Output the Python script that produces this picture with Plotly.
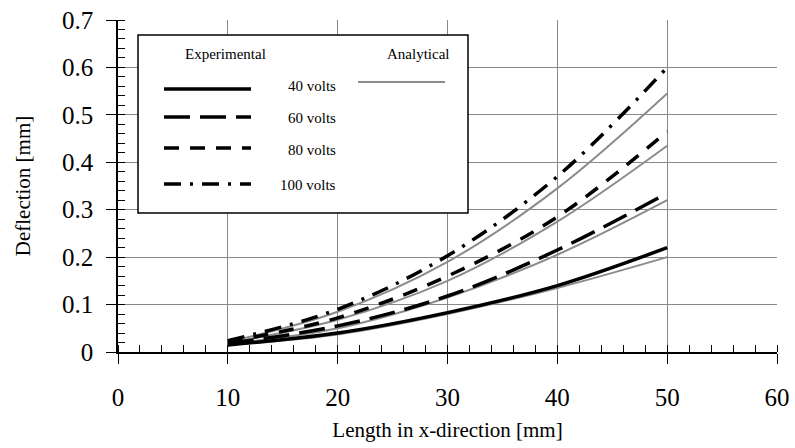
import plotly.graph_objects as go

x_mm = [10, 20, 30, 40, 50]

exp_40 = [0.015, 0.040, 0.083, 0.140, 0.220]
exp_60 = [0.018, 0.055, 0.118, 0.215, 0.335]
exp_80 = [0.021, 0.072, 0.160, 0.285, 0.465]
exp_100 = [0.024, 0.090, 0.203, 0.370, 0.600]

ana_40 = [0.015, 0.037, 0.080, 0.135, 0.200]
ana_60 = [0.017, 0.050, 0.115, 0.205, 0.320]
ana_80 = [0.019, 0.068, 0.150, 0.275, 0.435]
ana_100 = [0.021, 0.085, 0.190, 0.345, 0.545]

volt_labels = ["40 volts", "60 volts", "80 volts", "100 volts"]
x_ticks = [0, 10, 20, 30, 40, 50, 60]
y_ticks = [0, 0.1, 0.2, 0.3, 0.4, 0.5, 0.6, 0.7]

FONT = "Liberation Serif"
W, H = 795, 448
L, R, T, B = 118, 18, 20, 96
PW, PH = W - L - R, H - T - B

def px(xp):
    return (xp - L) / PW

def py(yp):
    return (H - B - yp) / PH

dashes = ["solid", "26px,10px", "15px,11px", "17px,9px,3px,9px"]
exp_series = [exp_40, exp_60, exp_80, exp_100]
ana_series = [ana_40, ana_60, ana_80, ana_100]

fig = go.Figure()
for ys in ana_series:
    fig.add_trace(go.Scatter(x=x_mm, y=ys, mode="lines",
                             line=dict(color="#8c8c8c", width=2, shape="spline"),
                             showlegend=False, hoverinfo="skip"))
for ys, d in zip(exp_series, dashes):
    fig.add_trace(go.Scatter(x=x_mm, y=ys, mode="lines",
                             line=dict(color="black", width=3.5, dash=d, shape="spline"),
                             showlegend=False, hoverinfo="skip"))

shapes = []
# legend box
shapes.append(dict(type="rect", xref="paper", yref="paper",
                   x0=px(138), x1=px(468), y0=py(213), y1=py(35),
                   line=dict(color="black", width=1.5), fillcolor="white", layer="above"))
row_y = [89, 117, 148, 184]
for yy, d in zip(row_y, dashes):
    shapes.append(dict(type="line", xref="paper", yref="paper",
                       x0=px(164), x1=px(251), y0=py(yy), y1=py(yy),
                       line=dict(color="black", width=3.5, dash=d), layer="above"))
shapes.append(dict(type="line", xref="paper", yref="paper",
                   x0=px(358), x1=px(445), y0=py(82), y1=py(82),
                   line=dict(color="#8c8c8c", width=2), layer="above"))

annotations = [
    dict(text="Experimental", x=px(225), y=py(54), xref="paper", yref="paper",
         xanchor="center", yanchor="middle",
         showarrow=False, font=dict(family=FONT, size=15, color="black")),
    dict(text="Analytical", x=px(418), y=py(54), xref="paper", yref="paper",
         xanchor="center", yanchor="middle",
         showarrow=False, font=dict(family=FONT, size=15, color="black")),
]
for yy, lab in zip([86, 118, 150, 185], volt_labels):
    annotations.append(dict(text=lab, x=px(338), y=py(yy), xref="paper", yref="paper",
                            xanchor="right", yanchor="middle", showarrow=False,
                            font=dict(family=FONT, size=15, color="black")))

fig.update_layout(
    width=W, height=H,
    margin=dict(l=L, r=R, t=T, b=B, autoexpand=False),
    paper_bgcolor="white", plot_bgcolor="white",
    font=dict(family=FONT, color="black"),
    shapes=shapes, annotations=annotations,
    xaxis=dict(range=[0, 60], tickvals=x_ticks, showgrid=True, gridcolor="#888888",
               gridwidth=1, showline=True, linecolor="black", linewidth=1.5,
               ticks="outside", ticklen=10, tickcolor="black", zeroline=False,
               tickfont=dict(family=FONT, size=25), ticklabelstandoff=12,
               minor=dict(dtick=2, ticks="inside", ticklen=7, tickcolor="black", showgrid=False),
               title=dict(text="Length in x-direction [mm]", font=dict(family=FONT, size=21),
                          standoff=13)),
    yaxis=dict(range=[0, 0.7], tickvals=y_ticks, showgrid=True, gridcolor="#888888",
               gridwidth=1, showline=True, linecolor="black", linewidth=1.5,
               ticks="outside", ticklen=10, tickcolor="black", zeroline=False,
               tickfont=dict(family=FONT, size=25), ticklabelstandoff=8,
               minor=dict(dtick=0.02, ticks="inside", ticklen=7, tickcolor="black", showgrid=False),
               title=dict(text="Deflection [mm]", font=dict(family=FONT, size=21), standoff=26)),
)

fig.write_html("out.html", config={"displayModeBar": False},
               post_script="document.body.style.margin='0';")
